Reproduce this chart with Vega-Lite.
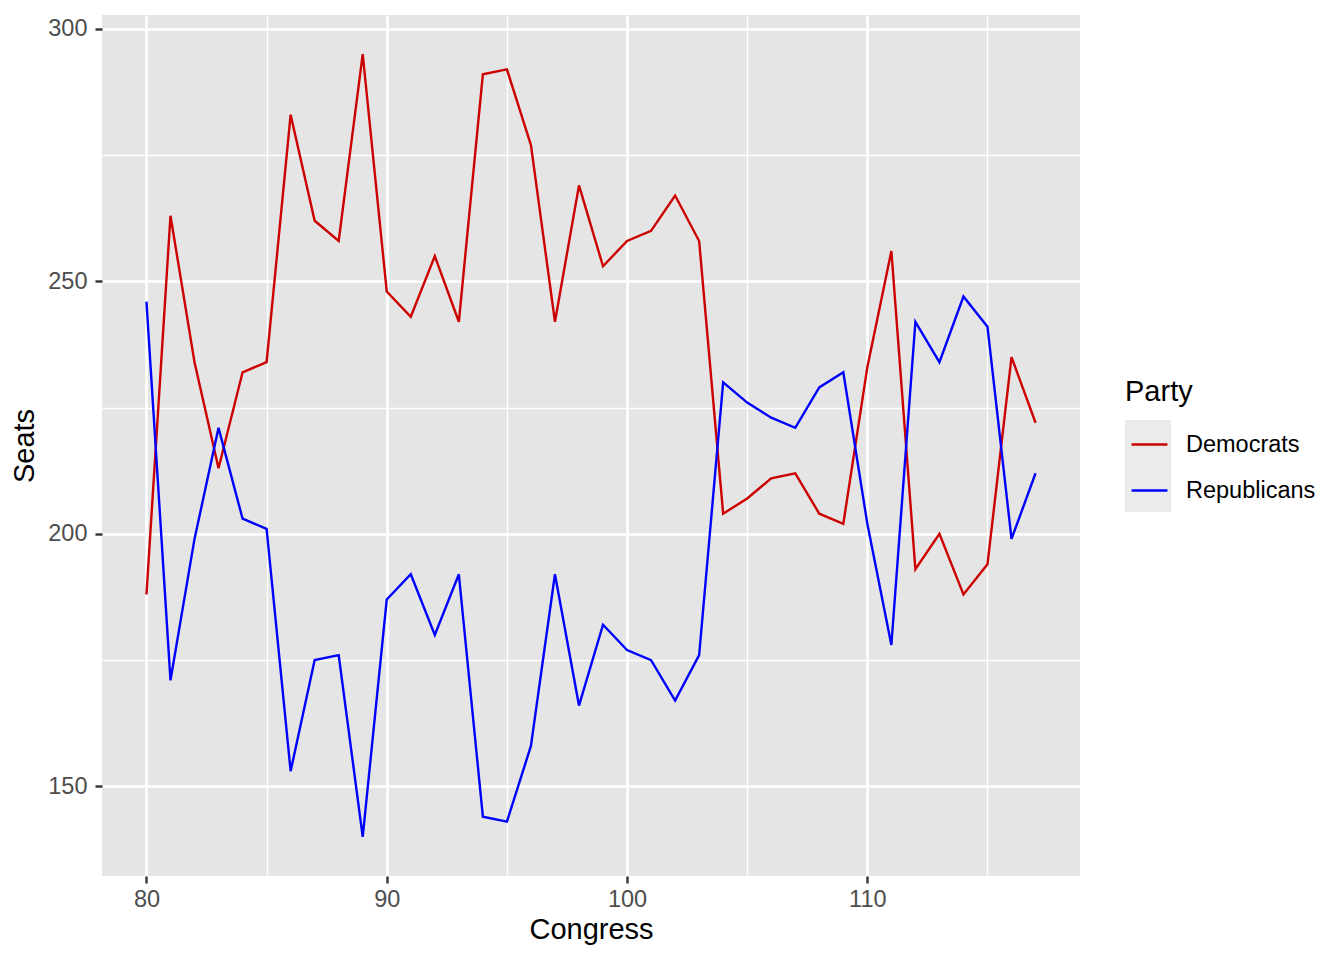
{
  "$schema": "https://vega.github.io/schema/vega-lite/v6.json",
  "autosize": {"type": "none"},
  "padding": {"left": 102, "top": 15, "right": 264, "bottom": 84},
  "width": 978,
  "height": 861,
  "config": {
    "font": "Liberation Sans",
    "view": {"fill": "#E5E5E5", "stroke": null}
  },
  "data": {
    "values": [
      {"congress": 80, "dem": 188, "rep": 246},
      {"congress": 81, "dem": 263, "rep": 171},
      {"congress": 82, "dem": 234, "rep": 199},
      {"congress": 83, "dem": 213, "rep": 221},
      {"congress": 84, "dem": 232, "rep": 203},
      {"congress": 85, "dem": 234, "rep": 201},
      {"congress": 86, "dem": 283, "rep": 153},
      {"congress": 87, "dem": 262, "rep": 175},
      {"congress": 88, "dem": 258, "rep": 176},
      {"congress": 89, "dem": 295, "rep": 140},
      {"congress": 90, "dem": 248, "rep": 187},
      {"congress": 91, "dem": 243, "rep": 192},
      {"congress": 92, "dem": 255, "rep": 180},
      {"congress": 93, "dem": 242, "rep": 192},
      {"congress": 94, "dem": 291, "rep": 144},
      {"congress": 95, "dem": 292, "rep": 143},
      {"congress": 96, "dem": 277, "rep": 158},
      {"congress": 97, "dem": 242, "rep": 192},
      {"congress": 98, "dem": 269, "rep": 166},
      {"congress": 99, "dem": 253, "rep": 182},
      {"congress": 100, "dem": 258, "rep": 177},
      {"congress": 101, "dem": 260, "rep": 175},
      {"congress": 102, "dem": 267, "rep": 167},
      {"congress": 103, "dem": 258, "rep": 176},
      {"congress": 104, "dem": 204, "rep": 230},
      {"congress": 105, "dem": 207, "rep": 226},
      {"congress": 106, "dem": 211, "rep": 223},
      {"congress": 107, "dem": 212, "rep": 221},
      {"congress": 108, "dem": 204, "rep": 229},
      {"congress": 109, "dem": 202, "rep": 232},
      {"congress": 110, "dem": 233, "rep": 202},
      {"congress": 111, "dem": 256, "rep": 178},
      {"congress": 112, "dem": 193, "rep": 242},
      {"congress": 113, "dem": 200, "rep": 234},
      {"congress": 114, "dem": 188, "rep": 247},
      {"congress": 115, "dem": 194, "rep": 241},
      {"congress": 116, "dem": 235, "rep": 199},
      {"congress": 117, "dem": 222, "rep": 212}
    ]
  },
  "transform": [
    {"fold": ["dem", "rep"], "as": ["key", "seats"]},
    {"calculate": "datum.key === 'dem' ? 'Democrats' : 'Republicans'", "as": "Party"}
  ],
  "layer": [
    {
      "mark": {"type": "line", "strokeWidth": 2, "stroke": "transparent"},
      "encoding": {
        "x": {
          "field": "congress", "type": "quantitative",
          "scale": {"domain": [78.15, 118.85], "nice": false, "zero": false},
          "axis": {"orient": "bottom", "values": [85, 95, 105, 115], "domain": false, "grid": true, "gridColor": "#FFFFFF", "gridWidth": 1.3, "labels": false, "ticks": false, "title": null}
        },
        "y": {
          "field": "seats", "type": "quantitative",
          "scale": {"domain": [132.25, 302.75], "nice": false, "zero": false},
          "axis": {"orient": "left", "values": [175, 225, 275], "domain": false, "grid": true, "gridColor": "#FFFFFF", "gridWidth": 1.3, "labels": false, "ticks": false, "title": null}
        },
        "strokeDash": {
          "field": "key", "type": "nominal",
          "scale": {"domain": ["dem", "rep"], "range": [[1, 0], [1, 0]]},
          "legend": {
            "orient": "none",
            "legendX": 1023,
            "legendY": 405,
            "zindex": 0,
            "title": null,
            "labelExpr": "''",
            "labelFontSize": 1,
            "labelOffset": 0,
            "symbolType": "square",
            "symbolSize": 2116,
            "symbolFillColor": "#EBEBEB",
            "symbolStrokeColor": "transparent",
            "symbolStrokeWidth": 0,
            "symbolOpacity": 1,
            "rowPadding": 0,
            "padding": 0
          }
        }
      }
    },
    {
      "mark": {"type": "line", "strokeWidth": 2.4},
      "encoding": {
        "x": {
          "field": "congress", "type": "quantitative",
          "scale": {"domain": [78.15, 118.85], "nice": false, "zero": false},
          "axis": {
            "orient": "bottom", "values": [80, 90, 100, 110], "domain": false,
            "grid": true, "gridColor": "#FFFFFF", "gridWidth": 2.6,
            "tickColor": "#333333", "tickSize": 7, "tickWidth": 2.4,
            "labelFont": "Liberation Sans", "labelFontSize": 23.5, "labelColor": "#4D4D4D", "labelPadding": 4,
            "title": "Congress", "titleFont": "Liberation Sans", "titleFontSize": 29, "titleFontWeight": "normal", "titleColor": "#000000", "titlePadding": 5
          }
        },
        "y": {
          "field": "seats", "type": "quantitative",
          "scale": {"domain": [132.25, 302.75], "nice": false, "zero": false},
          "axis": {
            "orient": "left", "values": [150, 200, 250, 300], "domain": false,
            "grid": true, "gridColor": "#FFFFFF", "gridWidth": 2.6,
            "tickColor": "#333333", "tickSize": 7, "tickWidth": 2.4,
            "labelFont": "Liberation Sans", "labelFontSize": 23.5, "labelColor": "#4D4D4D", "labelPadding": 8,
            "title": "Seats", "titleFont": "Liberation Sans", "titleFontSize": 29, "titleFontWeight": "normal", "titleColor": "#000000", "titlePadding": 8
          }
        },
        "color": {
          "field": "Party", "type": "nominal",
          "scale": {"domain": ["Democrats", "Republicans"], "range": ["#CC0000", "#0000FF"]},
          "legend": {
            "orient": "none",
            "legendX": 1023,
            "legendY": 363,
            "zindex": 1,
            "title": "Party",
            "titleFont": "Liberation Sans",
            "titleFontSize": 29,
            "titleFontWeight": "normal",
            "titleColor": "#000000",
            "titlePadding": 13,
            "labelFont": "Liberation Sans",
            "labelFontSize": 23.5,
            "labelColor": "#000000",
            "labelOffset": 12,
            "symbolType": "M-0.78,0H0.78",
            "symbolSize": 2116,
            "symbolStrokeWidth": 2.4,
            "rowPadding": 10,
            "padding": 0
          }
        }
      }
    }
  ],
  "resolve": {"axis": {"x": "independent", "y": "independent"}}
}
